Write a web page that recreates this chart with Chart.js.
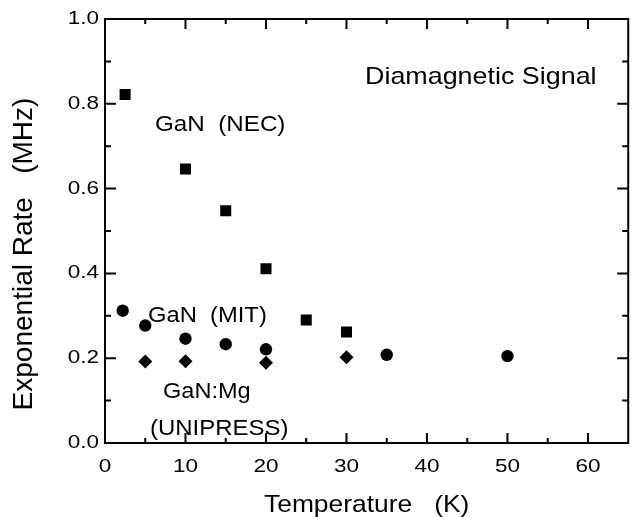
<!DOCTYPE html>
<html>
<head>
<meta charset="utf-8">
<script src="https://cdn.jsdelivr.net/npm/chart.js@4.4.1/dist/chart.umd.min.js"></script>
<style>
  html, body { margin: 0; padding: 0; background: #fff; }
  #wrap { width: 636px; height: 517px; }
</style>
</head>
<body>
<div id="wrap"><canvas id="chart1"></canvas></div>
<script>
// GaN (NEC) - squares
const necTemp = [2.5, 10, 15, 20, 25, 30];
const necRate = [0.822, 0.646, 0.548, 0.411, 0.290, 0.262];
// GaN (MIT) - circles
const mitTemp = [2.2, 5, 10, 15, 20, 35, 50];
const mitRate = [0.312, 0.277, 0.246, 0.233, 0.221, 0.208, 0.205];
// GaN:Mg (UNIPRESS) - diamonds
const uniTemp = [5, 10, 20, 30];
const uniRate = [0.192, 0.193, 0.189, 0.202];

// axis ticks
const xMajor = [0, 10, 20, 30, 40, 50, 60];
const xMinor = [5, 15, 25, 35, 45, 55];
const xTickLabels = ['0', '10', '20', '30', '40', '50', '60'];
const yMajor = [0, 0.2, 0.4, 0.6, 0.8, 1.0];
const yMinor = [0.1, 0.3, 0.5, 0.7, 0.9];
const yTickLabels = ['0.0', '0.2', '0.4', '0.6', '0.8', '1.0'];

const FONT = '"Liberation Sans", Arial, sans-serif';

function toPoints(xs, ys) {
  return xs.map((x, i) => ({ x: x, y: ys[i] }));
}

// text in the original is a bit wider than plain Arial
function wideText(ctx, text, x, y, size, sx, align, base) {
  ctx.save();
  ctx.font = size + 'px ' + FONT;
  ctx.textAlign = align || 'left';
  ctx.textBaseline = base || 'alphabetic';
  ctx.translate(x, y);
  ctx.scale(sx, 1);
  ctx.fillText(text, 0, 0);
  ctx.restore();
}

const framePlugin = {
  id: 'frame',
  afterDraw(chart) {
    const ctx = chart.ctx, a = chart.chartArea;
    const xs = chart.scales.x, ys = chart.scales.y;
    ctx.save();
    ctx.strokeStyle = '#000';
    ctx.fillStyle = '#000';
    ctx.lineWidth = 2;
    ctx.strokeRect(a.left, a.top, a.right - a.left, a.bottom - a.top);

    // inward ticks on all four sides
    ctx.beginPath();
    const tx = (v, len) => {
      const p = xs.getPixelForValue(v);
      ctx.moveTo(p, a.bottom); ctx.lineTo(p, a.bottom - len);
      ctx.moveTo(p, a.top); ctx.lineTo(p, a.top + len);
    };
    const ty = (v, len) => {
      const p = ys.getPixelForValue(v);
      ctx.moveTo(a.left, p); ctx.lineTo(a.left + len, p);
      ctx.moveTo(a.right, p); ctx.lineTo(a.right - len, p);
    };
    xMajor.forEach(v => tx(v, 10));
    xMinor.forEach(v => tx(v, 5));
    yMajor.forEach(v => ty(v, 11));
    yMinor.forEach(v => ty(v, 6));
    ctx.stroke();

    // tick labels
    xMajor.forEach((v, i) => wideText(ctx, xTickLabels[i], xs.getPixelForValue(v), 472, 18, 1.25, 'center'));
    yMajor.forEach((v, i) => wideText(ctx, yTickLabels[i], 99, ys.getPixelForValue(v), 18, 1.25, 'right', 'middle'));

    // axis titles
    wideText(ctx, 'Temperature   (K)', 264, 512, 24, 1.1, 'left');
    ctx.save();
    ctx.translate(32, 254);
    ctx.rotate(-Math.PI / 2);
    ctx.font = '28px ' + FONT;
    ctx.textAlign = 'center';
    ctx.textBaseline = 'alphabetic';
    ctx.fillText('Exponential Rate   (MHz)', 0, 0);
    ctx.restore();

    // labels inside the plot
    wideText(ctx, 'Diamagnetic Signal', 365, 84, 24, 1.12, 'left');
    wideText(ctx, 'GaN  (NEC)', 155, 131, 22, 1.1, 'left');
    wideText(ctx, 'GaN  (MIT)', 148, 322, 22, 1.08, 'left');
    wideText(ctx, 'GaN:Mg', 163, 398, 22, 1.07, 'left');
    wideText(ctx, '(UNIPRESS)', 150, 435, 22, 1.09, 'left');
    ctx.restore();
  }
};

document.addEventListener('DOMContentLoaded', function() {
  const ctx1 = document.getElementById('chart1');
  new Chart(ctx1, {
    type: 'scatter',
    data: {
      datasets: [{
        label: 'GaN (NEC)',
        data: toPoints(necTemp, necRate),
        pointStyle: 'rect',
        pointRadius: 7.8,
        backgroundColor: '#000',
        borderColor: '#000',
        borderWidth: 0
      }, {
        label: 'GaN (MIT)',
        data: toPoints(mitTemp, mitRate),
        pointStyle: 'circle',
        pointRadius: 6.2,
        backgroundColor: '#000',
        borderColor: '#000',
        borderWidth: 0
      }, {
        label: 'GaN:Mg (UNIPRESS)',
        data: toPoints(uniTemp, uniRate),
        pointStyle: 'rectRot',
        pointRadius: 7,
        backgroundColor: '#000',
        borderColor: '#000',
        borderWidth: 0
      }]
    },
    options: {
      responsive: true,
      maintainAspectRatio: false,
      animation: false,
      layout: { padding: { top: 19, right: 1, left: 0, bottom: 0 } },
      plugins: {
        legend: { display: false },
        tooltip: { enabled: false }
      },
      scales: {
        x: {
          type: 'linear',
          min: 0,
          max: 65,
          grid: { display: false },
          border: { display: false },
          ticks: { display: false },
          afterFit: s => { s.height = 74; }
        },
        y: {
          type: 'linear',
          min: 0,
          max: 1,
          grid: { display: false },
          border: { display: false },
          ticks: { display: false },
          afterFit: s => { s.width = 105; }
        }
      }
    },
    plugins: [framePlugin]
  });
});
</script>
</body>
</html>
